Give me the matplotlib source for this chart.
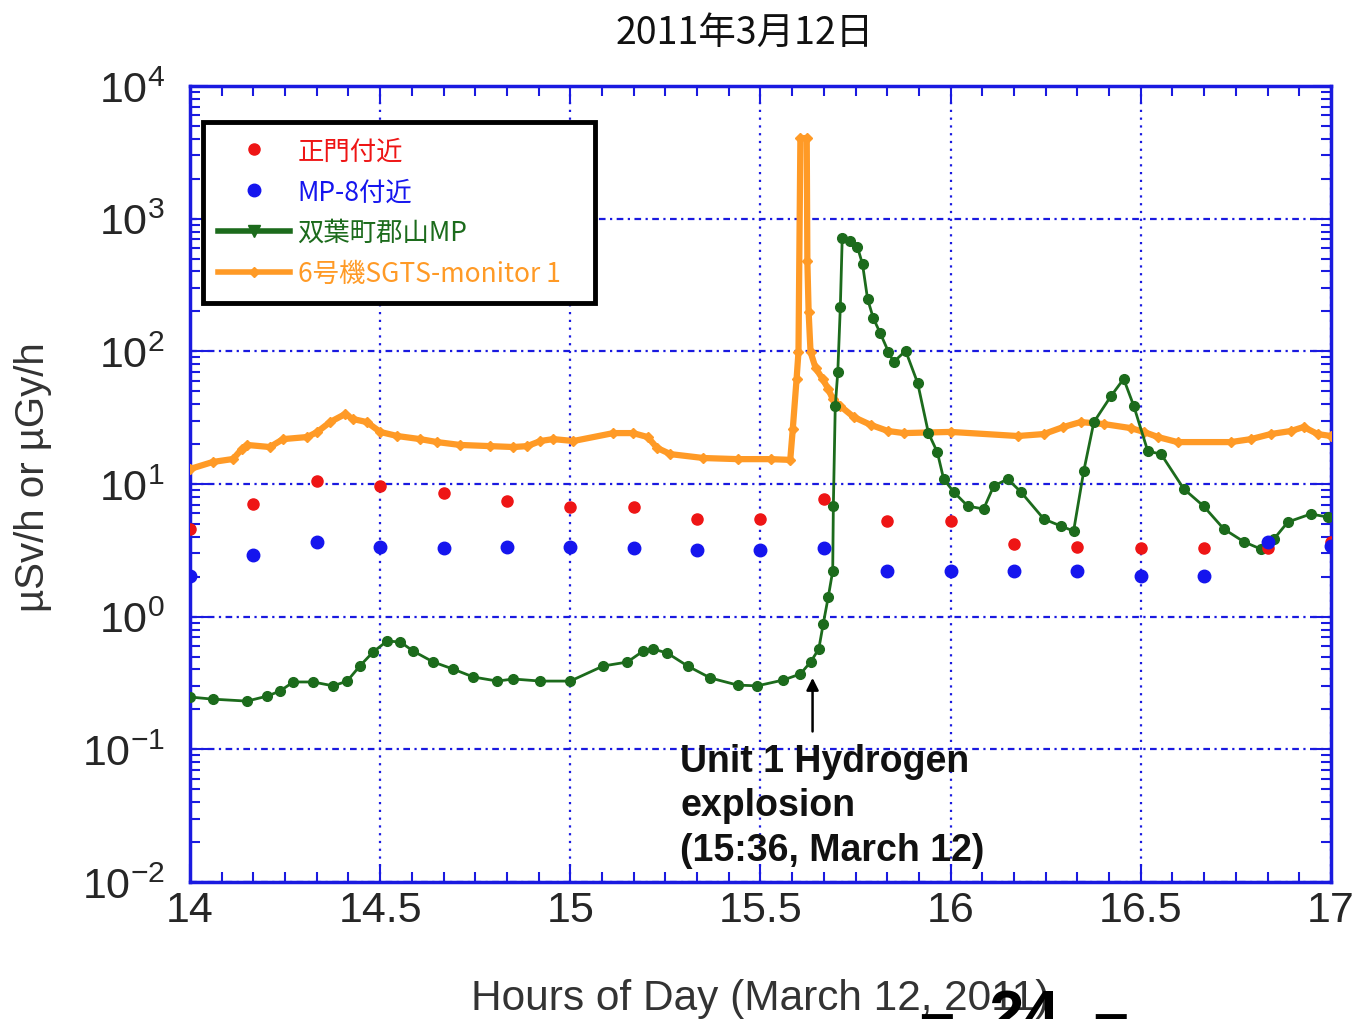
import numpy as np
import matplotlib
matplotlib.use('Agg')
import matplotlib.pyplot as plt
from matplotlib.ticker import MultipleLocator, LogLocator, FuncFormatter, NullFormatter
from matplotlib.font_manager import FontProperties
from matplotlib.lines import Line2D

plt.rcParams['font.family'] = ['Liberation Sans', 'DejaVu Sans']
plt.rcParams['mathtext.fontset'] = 'custom'
plt.rcParams['mathtext.rm'] = 'Liberation Sans'
plt.rcParams['mathtext.it'] = 'Liberation Sans'

# spot readings, every 10 minutes after 14:00
spot_min = [0, 10, 20, 30, 40, 50, 60, 70, 80, 90, 100, 110, 120, 130, 140, 150, 160, 170, 180]
gate_vals = [4.59, 7.08, 10.5, 9.7, 8.57, 7.46, 6.72, 6.72, 5.46, 5.46, 7.72, 5.27, 5.27,
             3.54, 3.36, 3.30, 3.30, 3.30, 3.66]
mp8_vals = [2.03, 2.92, 3.66, 3.36, 3.30, 3.36, 3.36, 3.30, 3.18, 3.18, 3.30, 2.21, 2.21,
            2.21, 2.21, 2.03, 2.03, 3.66, 3.41]

# Futaba-machi Koriyama MP
kori_min = [0, 3.6, 9.0, 12.2, 14.2, 16.3, 19.4, 22.6, 24.8, 26.8, 28.9, 31.1, 33.2, 35.2,
            38.4, 41.5, 44.7, 48.5, 51.0, 55.3, 60.0, 65.2, 69.0, 71.5, 73.1, 75.3, 78.5,
            82.1, 86.4, 89.5, 93.6, 96.3, 97.9, 99.2, 99.9, 100.7, 101.4, 101.5, 101.8,
            102.2, 102.6, 102.9, 104.2, 105.3, 106.1, 106.9, 107.8, 108.9, 110.2, 111.0,
            112.9, 114.8, 116.5, 117.9, 118.9, 120.5, 122.7, 125.2, 126.8, 129.0, 131.1,
            134.7, 137.4, 139.4, 141.0, 142.6, 145.3, 147.3, 148.9, 151.1, 153.2, 156.8,
            159.9, 163.1, 166.3, 168.9, 171.0, 173.2, 176.8, 179.5]
kori_vals = [0.248, 0.239, 0.231, 0.252, 0.275, 0.322, 0.322, 0.301, 0.327, 0.425, 0.542,
             0.656, 0.644, 0.551, 0.455, 0.403, 0.351, 0.327, 0.339, 0.327, 0.327, 0.425,
             0.455, 0.551, 0.570, 0.532, 0.425, 0.345, 0.305, 0.301, 0.333, 0.370, 0.455,
             0.570, 0.881, 1.41, 2.21, 6.82, 38.7, 69.8, 216, 715, 679, 611, 455, 248, 178,
             137, 99, 83, 101, 57.7, 24.2, 17.4, 10.9, 8.7, 6.82, 6.48, 9.66, 10.9, 8.7,
             5.45, 4.82, 4.42, 12.5, 29.3, 46.0, 62, 38.7, 17.7, 16.8, 9.17, 6.82, 4.58,
             3.66, 3.24, 3.85, 5.17, 5.94, 5.64]

# Unit 6 SGTS monitor 1
sgts_min = [0, 3.6, 6.8, 8.2, 9.0, 12.6, 14.7, 18.5, 20.1, 22.1, 24.5, 25.7, 27.9, 30.0,
            32.7, 36.3, 39.0, 42.6, 47.4, 51.0, 53.2, 55.3, 57.3, 60.5, 66.8, 69.9, 72.2,
            73.7, 75.8, 81.0, 86.4, 91.6, 94.7, 95.1, 95.7, 96.0, 96.3, 97.3, 97.4, 97.6,
            97.9, 98.7, 99.8, 100.7, 101.4, 102.6, 104.7, 107.4, 110.1, 112.6, 120.0,
            130.6, 134.7, 137.8, 140.5, 144.2, 148.4, 150.5, 152.7, 155.8, 164.2, 167.4,
            170.5, 173.7, 175.7, 177.9, 180.0]
sgts_vals = [12.97, 14.66, 15.44, 18.37, 19.7, 19.0, 21.8, 22.6, 24.7, 29.3, 33.7, 30.9,
             29.3, 24.7, 23.0, 21.8, 20.7, 19.7, 19.3, 19.0, 19.3, 21.1, 21.8, 21.1, 24.2,
             24.2, 22.6, 18.7, 16.8, 15.7, 15.4, 15.4, 15.2, 26.0, 62, 99, 4050, 4050, 480,
             198, 99, 74.8, 62, 52, 43.7, 38.7, 32.0, 27.9, 25.1, 24.2, 24.7, 23.0, 23.8,
             26.9, 29.3, 28.3, 26.4, 24.7, 22.6, 20.7, 20.7, 21.8, 23.8, 25.1, 26.9, 23.8,
             23.0]

labels = ['正門付近', 'MP-8付近', '双葉町郡山MP', '6号機SGTS-monitor 1']
colors = ['#ee1515', '#1515ee', '#1c6b1c', '#ff9a26']

def hours(m):
    return 14 + np.array(m) / 60.0

fig = plt.figure(figsize=(13.53, 10.20), dpi=100)
ax = fig.add_axes([0.1404, 0.1343, 0.8433, 0.7804])
ax.set_yscale('log')

ax.plot(hours(sgts_min), sgts_vals, color=colors[3], lw=4.5, marker='D', ms=5, zorder=3)
ax.plot(hours(kori_min), kori_vals, color=colors[2], lw=2, marker='o', ms=7, zorder=4)
ax.plot(hours(spot_min), gate_vals, 'o', color=colors[0], ms=8, zorder=5)
ax.plot(hours(spot_min), mp8_vals, 'o', color=colors[1], ms=9, zorder=5)

ax.set_xlim(14, 17)
ax.set_ylim(1e-2, 1e4)

blue = '#1a1ae0'
ax.xaxis.set_major_locator(MultipleLocator(0.5))
ax.xaxis.set_minor_locator(MultipleLocator(1 / 12))
ax.xaxis.set_major_formatter(FuncFormatter(lambda v, p: '%g' % v))
ax.yaxis.set_major_locator(LogLocator(base=10, numticks=10))
ax.yaxis.set_minor_locator(LogLocator(base=10, subs=np.arange(2, 10), numticks=20))
ax.yaxis.set_minor_formatter(NullFormatter())
ax.tick_params(which='both', direction='in', top=True, right=True, color=blue,
               labelsize=31, labelcolor='#262626')
ax.tick_params(which='major', length=13, width=1.5)
ax.tick_params(which='minor', length=7, width=1.5)
ax.tick_params(axis='y', pad=18)
ax.tick_params(axis='x', pad=6)
for s in ax.spines.values():
    s.set_color(blue)
    s.set_linewidth(2.5)

ax.grid(True, which='major', axis='y', color=blue, lw=1.6, ls=(0, (3, 2, 1, 2)))
ax.grid(True, which='major', axis='x', color=blue, lw=1.6, ls=(0, (1, 2.5)))

ax.set_xlabel('Hours of Day (March 12, 2011)', fontsize=30.5, color='#333333')
ax.xaxis.set_label_coords(0.5, -0.12)
ax.set_ylabel('µSv/h or µGy/h', fontsize=29, color='#333333')
ax.yaxis.set_label_coords(-0.121, 0.51)

# explosion marker
ax.annotate('', xy=(15.637, 0.363), xytext=(15.637, 0.13),
            arrowprops=dict(arrowstyle='-|>', color='black', lw=1.8, mutation_scale=18))
ax.text(15.289, 0.112, 'Unit 1 Hydrogen\nexplosion\n(15:36, March 12)',
        fontweight='bold', fontsize=27, color='#111111', va='top', ha='left',
        linespacing=1.3, zorder=6)

handles = [
    Line2D([], [], ls='none', marker='o', color=colors[0], ms=8),
    Line2D([], [], ls='none', marker='o', color=colors[1], ms=9),
    Line2D([], [], color=colors[2], lw=4, marker='v', ms=9),
    Line2D([], [], color=colors[3], lw=4, marker='D', ms=5),
]
leg = ax.legend(handles, labels, loc='upper left', bbox_to_anchor=(0.011, 0.735, 0.3436, 0.22),
                mode='expand', borderaxespad=0,
                prop=FontProperties(family=['Noto Sans CJK JP'], size=19),
                handlelength=2.7, labelspacing=0.52, borderpad=0.6, handletextpad=0.3,
                fancybox=False, framealpha=1)
leg.get_frame().set_edgecolor('black')
leg.get_frame().set_linewidth(3.5)
for t, c in zip(leg.get_texts(), colors):
    t.set_color(c)

fig.text(0.5506, 0.9676, '2011年3月12日', family=['Noto Sans CJK JP', 'DejaVu Sans'],
         fontsize=27, ha='center', va='center', color='#111111')
fig.text(0.7572, -0.0133, '–  24  –', fontweight='bold', fontsize=45,
         ha='center', va='baseline', color='black')

fig.savefig('out.png', dpi=100)
